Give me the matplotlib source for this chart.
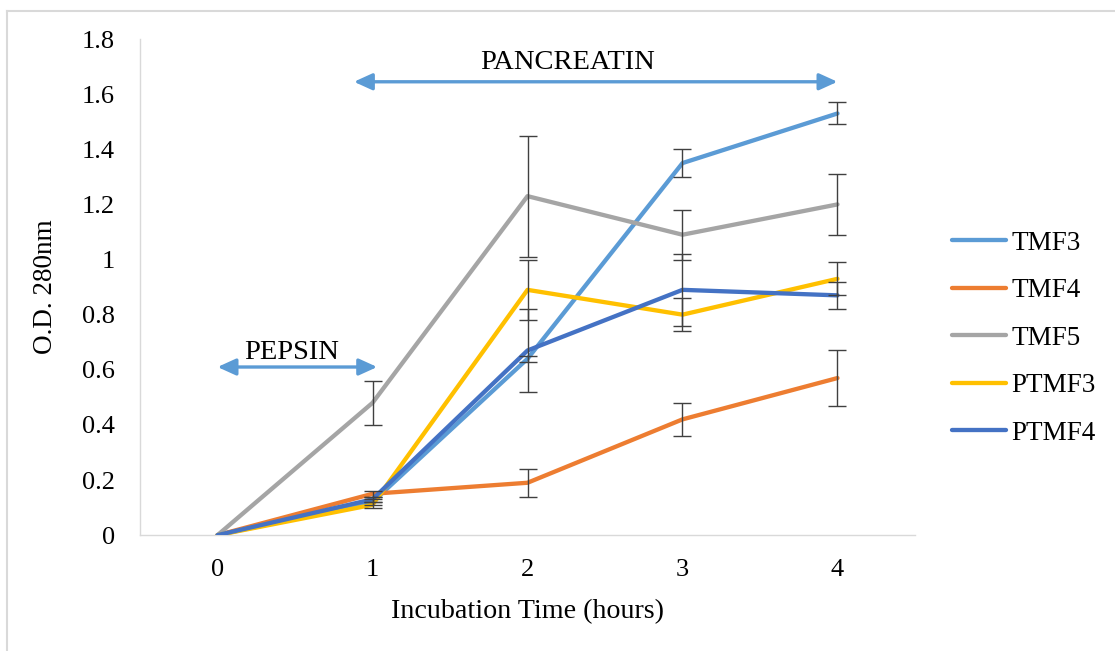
import matplotlib.pyplot as plt
from matplotlib.lines import Line2D

plt.rcParams['font.family'] = ['Liberation Serif', 'DejaVu Serif']

# incubation time points (hours)
hours = [0, 1, 2, 3, 4]
series = ['TMF3', 'TMF4', 'TMF5', 'PTMF3', 'PTMF4']
colors = ['#5B9BD5', '#ED7D31', '#A5A5A5', '#FFC000', '#4472C4']

# O.D. 280nm means
tmf3 = [0, 0.12, 0.64, 1.35, 1.53]
tmf4 = [0, 0.15, 0.19, 0.42, 0.57]
tmf5 = [0, 0.48, 1.23, 1.09, 1.20]
ptmf3 = [0, 0.11, 0.89, 0.80, 0.93]
ptmf4 = [0, 0.13, 0.67, 0.89, 0.87]

# standard deviations
tmf3_err = [0, 0.01, 0.01, 0.05, 0.04]
tmf4_err = [0, 0.01, 0.05, 0.06, 0.10]
tmf5_err = [0, 0.08, 0.22, 0.09, 0.11]
ptmf3_err = [0, 0.01, 0.11, 0.06, 0.06]
ptmf4_err = [0, 0.01, 0.15, 0.13, 0.05]

means = [tmf3, tmf4, tmf5, ptmf3, ptmf4]
errs = [tmf3_err, tmf4_err, tmf5_err, ptmf3_err, ptmf4_err]

fig = plt.figure(figsize=(11.15, 6.51), dpi=100)
ax = fig.add_axes([0.1256, 0.178, 0.695, 0.762])

for i in range(len(series)):
    ax.plot(hours, means[i], color=colors[i], lw=3.1, label=series[i],
            solid_capstyle='round', zorder=2 + i)
    # no error bar at time zero
    ax.errorbar(hours, means[i], yerr=errs[i], fmt='none', ecolor='#404040',
                elinewidth=1.0, capsize=6.5, capthick=1.0, errorevery=(1, 1),
                zorder=10)

ax.set_xlim(-0.5, 4.5)
ax.set_ylim(0, 1.8)
ax.set_xticks(hours)
ax.set_yticks([0, 0.2, 0.4, 0.6, 0.8, 1, 1.2, 1.4, 1.6, 1.8])
ax.set_yticklabels(['0', '0.2', '0.4', '0.6', '0.8', '1', '1.2', '1.4', '1.6', '1.8'])
ax.tick_params(length=0, labelsize=19, colors='#000000')
ax.tick_params(axis='y', pad=18)
ax.tick_params(axis='x', pad=17)
for side in ['top', 'right']:
    ax.spines[side].set_visible(False)
for side in ['left', 'bottom']:
    ax.spines[side].set_color('#D9D9D9')
    ax.spines[side].set_linewidth(1.0)

ax.set_xlabel('Incubation Time (hours)', fontsize=20.2, labelpad=13)
ax.set_ylabel('O.D. 280nm', fontsize=19.5, labelpad=17.5)

# digestion stage arrows
arrow_kw = dict(arrowstyle='<|-|>,head_length=1.1,head_width=0.5',
                color='#5B9BD5', lw=2.4, shrinkA=0, shrinkB=0)
ax.annotate('', xy=(4.0, 1.645), xytext=(0.88, 1.645), arrowprops=arrow_kw,
            annotation_clip=False)
ax.text(2.26, 1.715, 'PANCREATIN', fontsize=20.5, ha='center', va='center')
ax.annotate('', xy=(1.03, 0.61), xytext=(0.0, 0.61), arrowprops=arrow_kw)
ax.text(0.48, 0.662, 'PEPSIN', fontsize=20.5, ha='center', va='center')

handles = [Line2D([0], [0], color=c, lw=3.1, solid_capstyle='round') for c in colors]
fig.legend(handles, series, loc='upper left', bbox_to_anchor=(0.832, 0.683),
           frameon=False, fontsize=19.5, handlelength=2.0, handletextpad=0.2,
           labelspacing=0.83)

# outer chart frame
fig.add_artist(Line2D([0.0063, 0.0063], [0.0, 0.983], color='#D9D9D9', lw=1.5,
                      transform=fig.transFigure))
fig.add_artist(Line2D([0.0063, 1.0], [0.983, 0.983], color='#D9D9D9', lw=1.5,
                      transform=fig.transFigure))

fig.savefig('out.png', dpi=100, facecolor='white')
